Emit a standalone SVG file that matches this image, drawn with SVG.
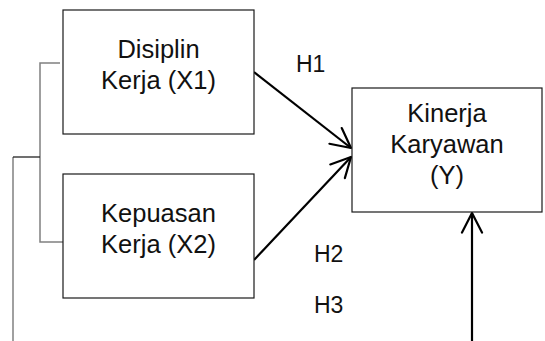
<svg xmlns="http://www.w3.org/2000/svg" width="545" height="341" viewBox="0 0 545 341">
  <style>
    .box { fill: #ffffff; stroke: #1a1a1a; stroke-width: 1.2; }
    .lbl { font-family: "Liberation Sans", Arial, sans-serif; font-size: 25.5px; fill: #111111; text-anchor: middle; }
    .hyp { font-family: "Liberation Sans", Arial, sans-serif; font-size: 23px; fill: #111111; }
    .arrow { stroke: #000000; stroke-width: 2.2; fill: none; marker-end: url(#openHead); }
    .bracket { stroke: #808080; stroke-width: 1.5; fill: none; }
    .tick { stroke: #222222; stroke-width: 1.3; fill: none; }
  </style>
  <defs>
    <marker id="openHead" markerUnits="userSpaceOnUse" markerWidth="28" markerHeight="28" viewBox="0 0 28 28" refX="21" refY="14" orient="auto">
      <path d="M1.4,4 L21,14 L1.4,24" fill="none" stroke="#000000" stroke-width="2.2" stroke-linejoin="round" stroke-linecap="round"/>
    </marker>
  </defs>

  <!-- grouping bracket joining X1 and X2 -->
  <g id="connectors">
    <path class="bracket" d="M60,63 H40 V242 H67"/>
    <path class="bracket" d="M13,157 V341"/>
    <line class="tick" x1="13" y1="157" x2="40" y2="157"/>
    <line class="arrow" x1="254" y1="72" x2="351" y2="148"/>
    <line class="arrow" x1="254" y1="260" x2="351" y2="157"/>
    <line class="arrow" x1="472" y1="341" x2="472" y2="213"/>
  </g>

  <g id="x1">
    <rect class="box" x="63" y="10" width="191" height="124"/>
    <text class="lbl" x="158.5" y="58">Disiplin</text>
    <text class="lbl" x="158.5" y="89">Kerja (X1)</text>
  </g>

  <g id="x2">
    <rect class="box" x="63" y="174" width="191" height="124"/>
    <text class="lbl" x="158.5" y="222">Kepuasan</text>
    <text class="lbl" x="158.5" y="253">Kerja (X2)</text>
  </g>

  <g id="y">
    <rect class="box" x="352" y="88" width="190" height="124"/>
    <text class="lbl" x="447" y="122">Kinerja</text>
    <text class="lbl" x="447" y="153">Karyawan</text>
    <text class="lbl" x="447" y="184">(Y)</text>
  </g>

  <g id="hypotheses">
    <text class="hyp" x="296" y="72">H1</text>
    <text class="hyp" x="314" y="262">H2</text>
    <text class="hyp" x="314" y="313">H3</text>
  </g>
</svg>
